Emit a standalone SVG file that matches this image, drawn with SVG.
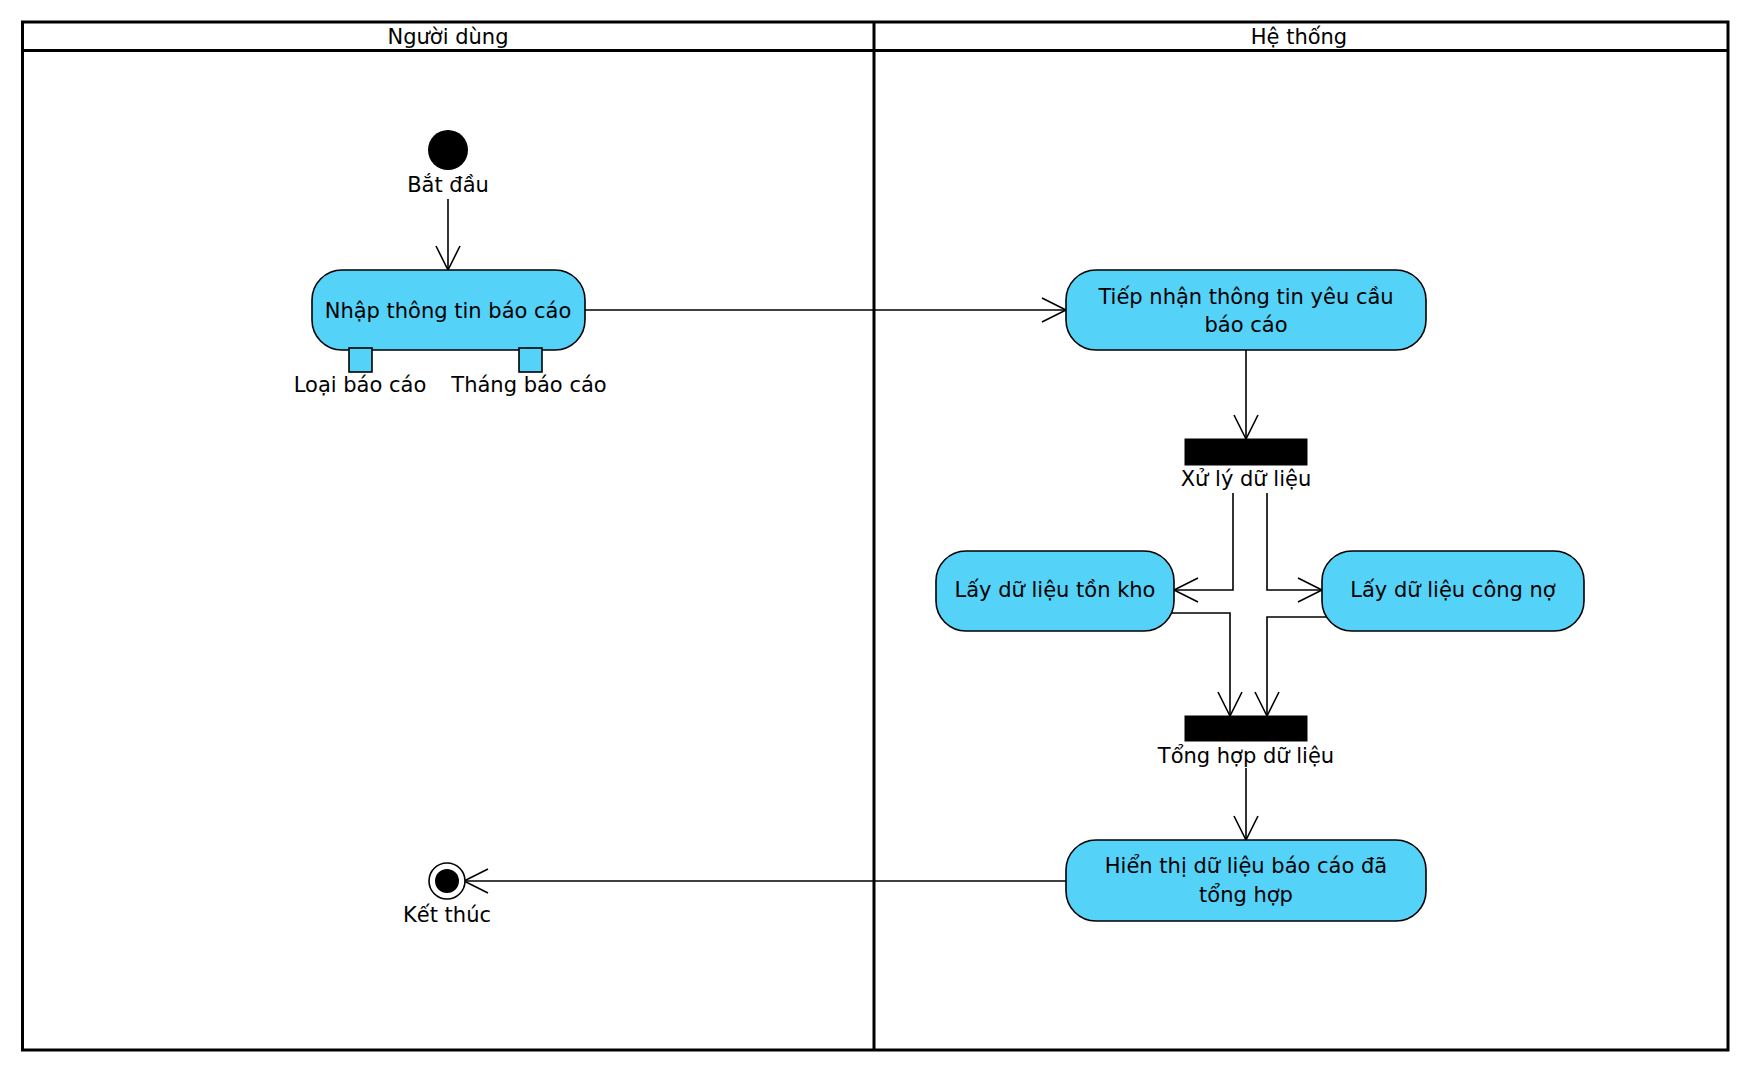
<svg xmlns="http://www.w3.org/2000/svg" width="1750" height="1072" viewBox="0 0 1750 1072">
<style>
  .lane{fill:none;stroke:#000;stroke-width:3}
  .hdr{font-family:"DejaVu Sans","Liberation Sans",sans-serif;font-size:21px;fill:#000;text-anchor:middle}
  .txt{font-family:"DejaVu Sans","Liberation Sans",sans-serif;font-size:21px;fill:#000;text-anchor:middle}
  .act{fill:#54d2f8;stroke:#000;stroke-width:1.6}
  .bar{fill:#000;stroke:#000;stroke-width:1}
  .edge{fill:none;stroke:#000;stroke-width:1.6}
</style>
<defs>
  <marker id="arr" markerUnits="userSpaceOnUse" markerWidth="30" markerHeight="30" viewBox="0 0 30 30" refX="27" refY="15" orient="auto">
    <path d="M3,3 L27,15 L3,27" fill="none" stroke="#000" stroke-width="1.6"/>
  </marker>
</defs>
<rect width="1750" height="1072" fill="#fff"/>
<g id="swimlanes">
  <rect class="lane" x="22.5" y="22" width="1705.5" height="1028"/>
  <line class="lane" x1="22.5" y1="50.5" x2="1728" y2="50.5"/>
  <line class="lane" x1="874" y1="22" x2="874" y2="1050"/>
  <text class="hdr" x="448" y="44">Người dùng</text>
  <text class="hdr" x="1299" y="44">Hệ thống</text>
</g>
<g id="connectors">
  <path class="edge" d="M448,199 L448,270" marker-end="url(#arr)"/>
  <path class="edge" d="M585,310 L1066,310" marker-end="url(#arr)"/>
  <path class="edge" d="M1246,350 L1246,439" marker-end="url(#arr)"/>
  <path class="edge" d="M1233,493 L1233,590 L1174,590" marker-end="url(#arr)"/>
  <path class="edge" d="M1267,493 L1267,590 L1322,590" marker-end="url(#arr)"/>
  <path class="edge" d="M1172,613 L1230,613 L1230,716" marker-end="url(#arr)"/>
  <path class="edge" d="M1327,617 L1267,617 L1267,716" marker-end="url(#arr)"/>
  <path class="edge" d="M1246,768 L1246,840" marker-end="url(#arr)"/>
  <path class="edge" d="M1066,881 L464,881" marker-end="url(#arr)"/>
</g>
<g id="start">
  <circle cx="448" cy="150" r="20" fill="#000"/>
  <text class="txt" x="448" y="192">Bắt đầu</text>
</g>
<g id="nhap">
  <rect class="act" x="312" y="270" width="273" height="80" rx="30" ry="30"/>
  <text class="txt" x="448" y="318">Nhập thông tin báo cáo</text>
</g>
<g id="pin-loai">
  <rect class="act" x="349" y="348" width="23" height="24"/>
  <text class="txt" x="360" y="392">Loại báo cáo</text>
</g>
<g id="pin-thang">
  <rect class="act" x="519" y="348" width="23" height="24"/>
  <text class="txt" x="529" y="392">Tháng báo cáo</text>
</g>
<g id="tiepnhan">
  <rect class="act" x="1066" y="270" width="360" height="80" rx="30" ry="30"/>
  <text class="txt" x="1246" y="304">Tiếp nhận thông tin yêu cầu</text>
  <text class="txt" x="1246" y="332">báo cáo</text>
</g>
<g id="fork">
  <rect class="bar" x="1185" y="439" width="122" height="26"/>
  <text class="txt" x="1246" y="486">Xử lý dữ liệu</text>
</g>
<g id="tonkho">
  <rect class="act" x="936" y="551" width="238" height="80" rx="30" ry="30"/>
  <text class="txt" x="1055" y="597">Lấy dữ liệu tồn kho</text>
</g>
<g id="congno">
  <rect class="act" x="1322" y="551" width="262" height="80" rx="30" ry="30"/>
  <text class="txt" x="1453" y="597">Lấy dữ liệu công nợ</text>
</g>
<g id="join">
  <rect class="bar" x="1185" y="716" width="122" height="25"/>
  <text class="txt" x="1246" y="763">Tổng hợp dữ liệu</text>
</g>
<g id="hienthi">
  <rect class="act" x="1066" y="840" width="360" height="81" rx="30" ry="30"/>
  <text class="txt" x="1246" y="873">Hiển thị dữ liệu báo cáo đã</text>
  <text class="txt" x="1246" y="902">tổng hợp</text>
</g>
<g id="end">
  <circle cx="447" cy="881" r="18" fill="#fff" stroke="#000" stroke-width="1.6"/>
  <circle cx="447" cy="881" r="12" fill="#000"/>
  <text class="txt" x="447" y="922">Kết thúc</text>
</g>
</svg>
